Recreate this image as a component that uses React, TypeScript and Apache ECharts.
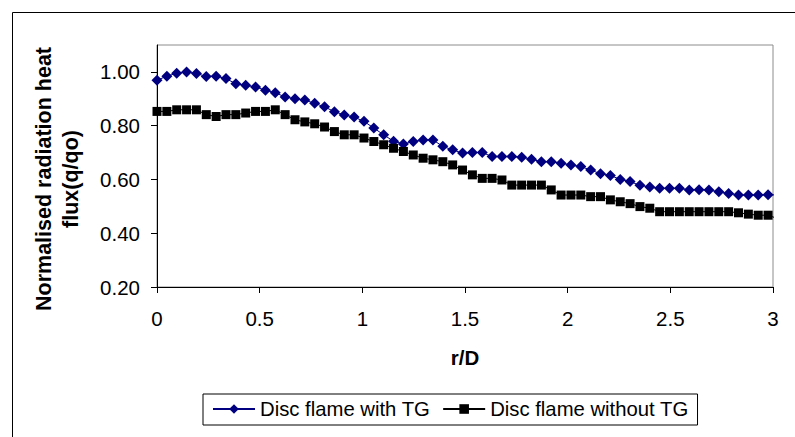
import React, { useEffect, useRef } from "react";
import * as echarts from "echarts";

const rValues = [
  0, 0.048, 0.096, 0.144, 0.192, 0.24, 0.288, 0.336, 0.384, 0.432, 0.48, 0.528, 0.576, 0.624, 0.672, 0.72,
  0.768, 0.816, 0.864, 0.912, 0.96, 1.008, 1.056, 1.104, 1.152, 1.2, 1.248, 1.296, 1.344, 1.392, 1.44, 1.488,
  1.536, 1.584, 1.632, 1.68, 1.728, 1.776, 1.824, 1.872, 1.92, 1.968, 2.016, 2.064, 2.112, 2.16, 2.208, 2.256,
  2.304, 2.352, 2.4, 2.448, 2.496, 2.544, 2.592, 2.64, 2.688, 2.736, 2.784, 2.832, 2.88, 2.928, 2.976, 3.024,
];

const withTG = [
  0.969, 0.984, 0.995, 1.0, 0.994, 0.983, 0.984, 0.975, 0.956, 0.95, 0.944, 0.932, 0.922, 0.907, 0.9, 0.895,
  0.883, 0.87, 0.852, 0.84, 0.832, 0.816, 0.791, 0.766, 0.742, 0.732, 0.741, 0.747, 0.747, 0.723, 0.71, 0.698,
  0.7, 0.7, 0.685, 0.685, 0.685, 0.683, 0.675, 0.666, 0.666, 0.66, 0.654, 0.648, 0.635, 0.621, 0.615, 0.6,
  0.592, 0.578, 0.572, 0.567, 0.567, 0.567, 0.561, 0.562, 0.561, 0.554, 0.548, 0.542, 0.542, 0.542, 0.543, 0.542,
];

const withoutTG = [
  0.853, 0.853, 0.859, 0.859, 0.859, 0.841, 0.834, 0.841, 0.841, 0.847, 0.853, 0.853, 0.859, 0.841, 0.822, 0.814,
  0.807, 0.795, 0.778, 0.766, 0.766, 0.754, 0.741, 0.729, 0.716, 0.704, 0.691, 0.679, 0.673, 0.666, 0.654, 0.635,
  0.617, 0.604, 0.604, 0.598, 0.579, 0.579, 0.579, 0.579, 0.561, 0.542, 0.542, 0.542, 0.536, 0.536, 0.524, 0.517,
  0.51, 0.499, 0.493, 0.48, 0.48, 0.48, 0.48, 0.48, 0.48, 0.48, 0.48, 0.476, 0.471, 0.467, 0.467, 0.454,
];

const yTicks = [0.2, 0.4, 0.6, 0.8, 1.0];
const seriesNames = ["Disc flame with TG", "Disc flame without TG"];
const xTitle = "r/D";
const yTitle = "Normalised radiation heat\nflux(q/qo)";

const FONT = '"Liberation Sans", Arial, sans-serif';

function build(values: number[]) {
  const last = rValues.length - 1;
  return rValues.map((r, i) =>
    i === last ? { value: [r, values[i]], symbol: "none" } : [r, values[i]]
  );
}

export default function App() {
  const ref = useRef<HTMLDivElement>(null);
  useEffect(() => {
    if (!ref.current) return;
    const chart = echarts.init(ref.current, undefined, { renderer: "svg" });
    chart.setOption({
      animation: false,
      backgroundColor: "#fff",
      grid: {
        left: 157,
        right: 22,
        top: 45,
        bottom: 150,
        show: true,
        borderColor: "#8c8c8c",
        borderWidth: 1,
        backgroundColor: "transparent",
      },
      xAxis: {
        type: "value",
        min: 0,
        max: 3,
        interval: 0.5,
        splitLine: { show: false },
        axisLine: { lineStyle: { color: "#000", width: 1 } },
        axisTick: { show: true, inside: false, length: 6, lineStyle: { color: "#000" } },
        axisLabel: { color: "#000", fontSize: 20.5, fontFamily: FONT, margin: 21 },
      },
      yAxis: {
        type: "value",
        min: 0.2,
        max: 1.1,
        splitLine: { show: false },
        axisLine: { show: true, lineStyle: { color: "#000", width: 1 } },
        axisTick: { show: true, length: 6, lineStyle: { color: "#000" }, customValues: yTicks },
        axisLabel: {
          color: "#000",
          fontSize: 20.5,
          fontFamily: FONT,
          margin: 17,
          customValues: yTicks,
          formatter: (v: number) => v.toFixed(2),
        },
      },
      legend: {
        left: 203,
        top: 394,
        orient: "horizontal",
        borderColor: "#000",
        borderWidth: 1,
        padding: [5, 9, 6, 9],
        itemWidth: 42,
        itemHeight: 12,
        itemGap: 12,
        textStyle: { color: "#000", fontSize: 20.3, fontFamily: FONT },
        data: seriesNames,
      },
      graphic: [
        {
          type: "rect",
          left: 10,
          top: 10,
          shape: { x: 0.5, y: 0.5, width: 820, height: 460 },
          style: { fill: "none", stroke: "#000", lineWidth: 1 },
          silent: true,
        },
        {
          type: "text",
          x: 57,
          y: 179,
          rotation: Math.PI / 2,
          style: {
            text: yTitle,
            fontSize: 21.5,
            fontWeight: "bold",
            fontFamily: FONT,
            fill: "#000",
            align: "center",
            verticalAlign: "middle",
            lineHeight: 27,
          },
        },
        {
          type: "text",
          x: 465,
          y: 357,
          style: {
            text: xTitle,
            fontSize: 20.5,
            fontWeight: "bold",
            fontFamily: FONT,
            fill: "#000",
            align: "center",
            verticalAlign: "middle",
          },
        },
      ],
      series: [
        {
          name: seriesNames[0],
          type: "line",
          data: build(withTG),
          clip: false,
          symbol: "diamond",
          symbolSize: 11,
          itemStyle: { color: "#000080" },
          lineStyle: { color: "#000080", width: 1 },
        },
        {
          name: seriesNames[1],
          type: "line",
          data: build(withoutTG),
          clip: false,
          symbol: "rect",
          symbolSize: 9,
          itemStyle: { color: "#000" },
          lineStyle: { color: "#000", width: 1 },
        },
      ],
    });
    return () => chart.dispose();
  }, []);
  return (
    <div
      ref={ref}
      style={{ position: "absolute", left: 0, top: 0, width: 795, height: 437 }}
    />
  );
}
